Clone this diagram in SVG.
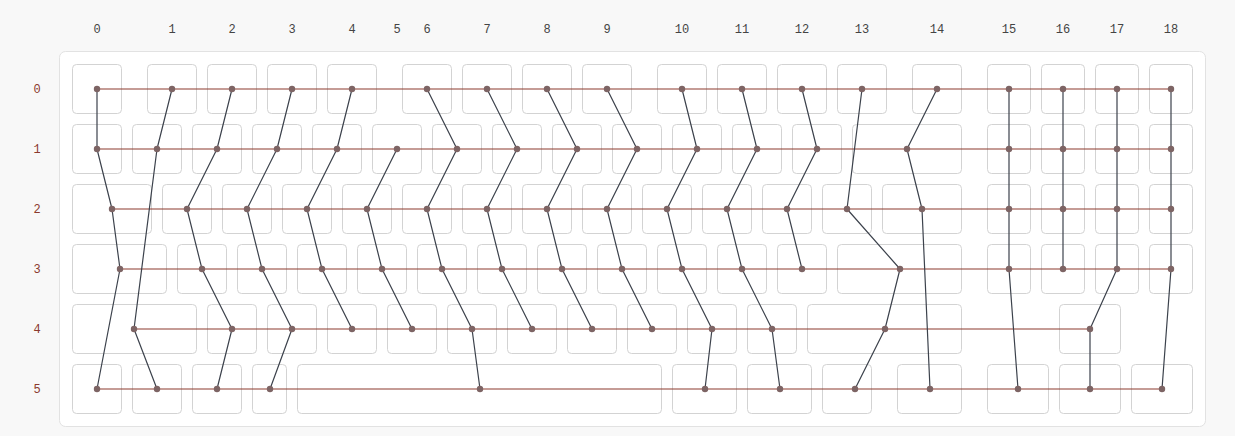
<svg xmlns="http://www.w3.org/2000/svg" width="1235" height="436" viewBox="0 0 1235 436">
<style>
.k{fill:#fff;stroke:#d3d3d3;stroke-width:1}
.row{stroke:#8b3a2e;stroke-width:1.2;fill:none}
.col{stroke:#3c424c;stroke-width:1.2;fill:none;stroke-linejoin:round}
.d{fill:#7d6464}
.cl{font-family:"Liberation Mono","DejaVu Sans Mono",monospace;font-size:12px;fill:#444;text-anchor:middle}
.rl{font-family:"Liberation Mono","DejaVu Sans Mono",monospace;font-size:12px;fill:#8b3a2e;text-anchor:middle}
</style>
<rect width="1235" height="436" fill="#f8f8f8"/>
<rect x="59.5" y="51.5" width="1146" height="375" rx="6" fill="#fff" stroke="#e2e2e2"/>
<g id="col-labels">
<text class="cl" x="97" y="33">0</text><text class="cl" x="172" y="33">1</text><text class="cl" x="232" y="33">2</text><text class="cl" x="292" y="33">3</text><text class="cl" x="352" y="33">4</text><text class="cl" x="397" y="33">5</text><text class="cl" x="427" y="33">6</text><text class="cl" x="487" y="33">7</text><text class="cl" x="547" y="33">8</text><text class="cl" x="607" y="33">9</text><text class="cl" x="682" y="33">10</text><text class="cl" x="742" y="33">11</text><text class="cl" x="802" y="33">12</text><text class="cl" x="862" y="33">13</text><text class="cl" x="937" y="33">14</text><text class="cl" x="1009" y="33">15</text><text class="cl" x="1063" y="33">16</text><text class="cl" x="1117" y="33">17</text><text class="cl" x="1171" y="33">18</text>
</g>
<g id="row-labels">
<text class="rl" x="37" y="93">0</text><text class="rl" x="37" y="153">1</text><text class="rl" x="37" y="213">2</text><text class="rl" x="37" y="273">3</text><text class="rl" x="37" y="333">4</text><text class="rl" x="37" y="393">5</text>
</g>
<g id="keys">
<g id="row0">
<rect class="k" x="72.5" y="64.5" width="49" height="49" rx="4"/>
<rect class="k" x="147.5" y="64.5" width="49" height="49" rx="4"/>
<rect class="k" x="207.5" y="64.5" width="49" height="49" rx="4"/>
<rect class="k" x="267.5" y="64.5" width="49" height="49" rx="4"/>
<rect class="k" x="327.5" y="64.5" width="49" height="49" rx="4"/>
<rect class="k" x="402.5" y="64.5" width="49" height="49" rx="4"/>
<rect class="k" x="462.5" y="64.5" width="49" height="49" rx="4"/>
<rect class="k" x="522.5" y="64.5" width="49" height="49" rx="4"/>
<rect class="k" x="582.5" y="64.5" width="49" height="49" rx="4"/>
<rect class="k" x="657.5" y="64.5" width="49" height="49" rx="4"/>
<rect class="k" x="717.5" y="64.5" width="49" height="49" rx="4"/>
<rect class="k" x="777.5" y="64.5" width="49" height="49" rx="4"/>
<rect class="k" x="837.5" y="64.5" width="49" height="49" rx="4"/>
<rect class="k" x="912.5" y="64.5" width="49" height="49" rx="4"/>
<rect class="k" x="987.5" y="64.5" width="43" height="49" rx="4"/>
<rect class="k" x="1041.5" y="64.5" width="43" height="49" rx="4"/>
<rect class="k" x="1095.5" y="64.5" width="43" height="49" rx="4"/>
<rect class="k" x="1149.5" y="64.5" width="43" height="49" rx="4"/>
</g>
<g id="row1">
<rect class="k" x="72.5" y="124.5" width="49" height="49" rx="4"/>
<rect class="k" x="132.5" y="124.5" width="49" height="49" rx="4"/>
<rect class="k" x="192.5" y="124.5" width="49" height="49" rx="4"/>
<rect class="k" x="252.5" y="124.5" width="49" height="49" rx="4"/>
<rect class="k" x="312.5" y="124.5" width="49" height="49" rx="4"/>
<rect class="k" x="372.5" y="124.5" width="49" height="49" rx="4"/>
<rect class="k" x="432.5" y="124.5" width="49" height="49" rx="4"/>
<rect class="k" x="492.5" y="124.5" width="49" height="49" rx="4"/>
<rect class="k" x="552.5" y="124.5" width="49" height="49" rx="4"/>
<rect class="k" x="612.5" y="124.5" width="49" height="49" rx="4"/>
<rect class="k" x="672.5" y="124.5" width="49" height="49" rx="4"/>
<rect class="k" x="732.5" y="124.5" width="49" height="49" rx="4"/>
<rect class="k" x="792.5" y="124.5" width="49" height="49" rx="4"/>
<rect class="k" x="852.5" y="124.5" width="109" height="49" rx="4"/>
<rect class="k" x="987.5" y="124.5" width="43" height="49" rx="4"/>
<rect class="k" x="1041.5" y="124.5" width="43" height="49" rx="4"/>
<rect class="k" x="1095.5" y="124.5" width="43" height="49" rx="4"/>
<rect class="k" x="1149.5" y="124.5" width="43" height="49" rx="4"/>
</g>
<g id="row2">
<rect class="k" x="72.5" y="184.5" width="79" height="49" rx="4"/>
<rect class="k" x="162.5" y="184.5" width="49" height="49" rx="4"/>
<rect class="k" x="222.5" y="184.5" width="49" height="49" rx="4"/>
<rect class="k" x="282.5" y="184.5" width="49" height="49" rx="4"/>
<rect class="k" x="342.5" y="184.5" width="49" height="49" rx="4"/>
<rect class="k" x="402.5" y="184.5" width="49" height="49" rx="4"/>
<rect class="k" x="462.5" y="184.5" width="49" height="49" rx="4"/>
<rect class="k" x="522.5" y="184.5" width="49" height="49" rx="4"/>
<rect class="k" x="582.5" y="184.5" width="49" height="49" rx="4"/>
<rect class="k" x="642.5" y="184.5" width="49" height="49" rx="4"/>
<rect class="k" x="702.5" y="184.5" width="49" height="49" rx="4"/>
<rect class="k" x="762.5" y="184.5" width="49" height="49" rx="4"/>
<rect class="k" x="822.5" y="184.5" width="49" height="49" rx="4"/>
<rect class="k" x="882.5" y="184.5" width="79" height="49" rx="4"/>
<rect class="k" x="987.5" y="184.5" width="43" height="49" rx="4"/>
<rect class="k" x="1041.5" y="184.5" width="43" height="49" rx="4"/>
<rect class="k" x="1095.5" y="184.5" width="43" height="49" rx="4"/>
<rect class="k" x="1149.5" y="184.5" width="43" height="49" rx="4"/>
</g>
<g id="row3">
<rect class="k" x="72.5" y="244.5" width="94" height="49" rx="4"/>
<rect class="k" x="177.5" y="244.5" width="49" height="49" rx="4"/>
<rect class="k" x="237.5" y="244.5" width="49" height="49" rx="4"/>
<rect class="k" x="297.5" y="244.5" width="49" height="49" rx="4"/>
<rect class="k" x="357.5" y="244.5" width="49" height="49" rx="4"/>
<rect class="k" x="417.5" y="244.5" width="49" height="49" rx="4"/>
<rect class="k" x="477.5" y="244.5" width="49" height="49" rx="4"/>
<rect class="k" x="537.5" y="244.5" width="49" height="49" rx="4"/>
<rect class="k" x="597.5" y="244.5" width="49" height="49" rx="4"/>
<rect class="k" x="657.5" y="244.5" width="49" height="49" rx="4"/>
<rect class="k" x="717.5" y="244.5" width="49" height="49" rx="4"/>
<rect class="k" x="777.5" y="244.5" width="49" height="49" rx="4"/>
<rect class="k" x="837.5" y="244.5" width="124" height="49" rx="4"/>
<rect class="k" x="987.5" y="244.5" width="43" height="49" rx="4"/>
<rect class="k" x="1041.5" y="244.5" width="43" height="49" rx="4"/>
<rect class="k" x="1095.5" y="244.5" width="43" height="49" rx="4"/>
<rect class="k" x="1149.5" y="244.5" width="43" height="49" rx="4"/>
</g>
<g id="row4">
<rect class="k" x="72.5" y="304.5" width="124" height="49" rx="4"/>
<rect class="k" x="207.5" y="304.5" width="49" height="49" rx="4"/>
<rect class="k" x="267.5" y="304.5" width="49" height="49" rx="4"/>
<rect class="k" x="327.5" y="304.5" width="49" height="49" rx="4"/>
<rect class="k" x="387.5" y="304.5" width="49" height="49" rx="4"/>
<rect class="k" x="447.5" y="304.5" width="49" height="49" rx="4"/>
<rect class="k" x="507.5" y="304.5" width="49" height="49" rx="4"/>
<rect class="k" x="567.5" y="304.5" width="49" height="49" rx="4"/>
<rect class="k" x="627.5" y="304.5" width="49" height="49" rx="4"/>
<rect class="k" x="687.5" y="304.5" width="49" height="49" rx="4"/>
<rect class="k" x="747.5" y="304.5" width="49" height="49" rx="4"/>
<rect class="k" x="807.5" y="304.5" width="154" height="49" rx="4"/>
<rect class="k" x="1059.5" y="304.5" width="61" height="49" rx="4"/>
</g>
<g id="row5">
<rect class="k" x="72.5" y="364.5" width="49" height="49" rx="4"/>
<rect class="k" x="132.5" y="364.5" width="49" height="49" rx="4"/>
<rect class="k" x="192.5" y="364.5" width="49" height="49" rx="4"/>
<rect class="k" x="252.5" y="364.5" width="34" height="49" rx="4"/>
<rect class="k" x="297.5" y="364.5" width="364" height="49" rx="4"/>
<rect class="k" x="672.5" y="364.5" width="64" height="49" rx="4"/>
<rect class="k" x="747.5" y="364.5" width="64" height="49" rx="4"/>
<rect class="k" x="822.5" y="364.5" width="49" height="49" rx="4"/>
<rect class="k" x="897.5" y="364.5" width="64" height="49" rx="4"/>
<rect class="k" x="987.5" y="364.5" width="61" height="49" rx="4"/>
<rect class="k" x="1059.5" y="364.5" width="61" height="49" rx="4"/>
<rect class="k" x="1131.5" y="364.5" width="61" height="49" rx="4"/>
</g>
</g>
<g id="connectors">
<g id="row-wires">
<line class="row" x1="97" y1="89" x2="1171" y2="89"/>
<line class="row" x1="97" y1="149" x2="1171" y2="149"/>
<line class="row" x1="112" y1="209" x2="1171" y2="209"/>
<line class="row" x1="120" y1="269" x2="1171" y2="269"/>
<line class="row" x1="134" y1="329" x2="1090" y2="329"/>
<line class="row" x1="97" y1="389" x2="1162" y2="389"/>
</g>
<g id="col-wires">
<polyline class="col" points="97,89 97,149 112,209 120,269 97,389"/>
<polyline class="col" points="172,89 157,149 134,329 157,389"/>
<polyline class="col" points="232,89 217,149 187,209 202,269 232,329 217,389"/>
<polyline class="col" points="292,89 277,149 247,209 262,269 292,329 270,389"/>
<polyline class="col" points="352,89 337,149 307,209 322,269 352,329"/>
<polyline class="col" points="397,149 367,209 382,269 412,329"/>
<polyline class="col" points="427,89 457,149 427,209 442,269 472,329 480,389"/>
<polyline class="col" points="487,89 517,149 487,209 502,269 532,329"/>
<polyline class="col" points="547,89 577,149 547,209 562,269 592,329"/>
<polyline class="col" points="607,89 637,149 607,209 622,269 652,329"/>
<polyline class="col" points="682,89 697,149 667,209 682,269 712,329 705,389"/>
<polyline class="col" points="742,89 757,149 727,209 742,269 772,329 780,389"/>
<polyline class="col" points="802,89 817,149 787,209 802,269"/>
<polyline class="col" points="862,89 847,209 900,269 885,329 855,389"/>
<polyline class="col" points="937,89 907,149 922,209 930,389"/>
<polyline class="col" points="1009,89 1009,269 1018,389"/>
<polyline class="col" points="1063,89 1063,269"/>
<polyline class="col" points="1117,89 1117,269 1090,329 1090,389"/>
<polyline class="col" points="1171,89 1171,269 1162,389"/>
</g>
</g>
<g id="dots">
<circle class="d" cx="97" cy="89" r="3.2"/><circle class="d" cx="172" cy="89" r="3.2"/><circle class="d" cx="232" cy="89" r="3.2"/><circle class="d" cx="292" cy="89" r="3.2"/><circle class="d" cx="352" cy="89" r="3.2"/><circle class="d" cx="427" cy="89" r="3.2"/><circle class="d" cx="487" cy="89" r="3.2"/><circle class="d" cx="547" cy="89" r="3.2"/><circle class="d" cx="607" cy="89" r="3.2"/><circle class="d" cx="682" cy="89" r="3.2"/><circle class="d" cx="742" cy="89" r="3.2"/><circle class="d" cx="802" cy="89" r="3.2"/><circle class="d" cx="862" cy="89" r="3.2"/><circle class="d" cx="937" cy="89" r="3.2"/><circle class="d" cx="1009" cy="89" r="3.2"/><circle class="d" cx="1063" cy="89" r="3.2"/><circle class="d" cx="1117" cy="89" r="3.2"/><circle class="d" cx="1171" cy="89" r="3.2"/>
<circle class="d" cx="97" cy="149" r="3.2"/><circle class="d" cx="157" cy="149" r="3.2"/><circle class="d" cx="217" cy="149" r="3.2"/><circle class="d" cx="277" cy="149" r="3.2"/><circle class="d" cx="337" cy="149" r="3.2"/><circle class="d" cx="397" cy="149" r="3.2"/><circle class="d" cx="457" cy="149" r="3.2"/><circle class="d" cx="517" cy="149" r="3.2"/><circle class="d" cx="577" cy="149" r="3.2"/><circle class="d" cx="637" cy="149" r="3.2"/><circle class="d" cx="697" cy="149" r="3.2"/><circle class="d" cx="757" cy="149" r="3.2"/><circle class="d" cx="817" cy="149" r="3.2"/><circle class="d" cx="907" cy="149" r="3.2"/><circle class="d" cx="1009" cy="149" r="3.2"/><circle class="d" cx="1063" cy="149" r="3.2"/><circle class="d" cx="1117" cy="149" r="3.2"/><circle class="d" cx="1171" cy="149" r="3.2"/>
<circle class="d" cx="112" cy="209" r="3.2"/><circle class="d" cx="187" cy="209" r="3.2"/><circle class="d" cx="247" cy="209" r="3.2"/><circle class="d" cx="307" cy="209" r="3.2"/><circle class="d" cx="367" cy="209" r="3.2"/><circle class="d" cx="427" cy="209" r="3.2"/><circle class="d" cx="487" cy="209" r="3.2"/><circle class="d" cx="547" cy="209" r="3.2"/><circle class="d" cx="607" cy="209" r="3.2"/><circle class="d" cx="667" cy="209" r="3.2"/><circle class="d" cx="727" cy="209" r="3.2"/><circle class="d" cx="787" cy="209" r="3.2"/><circle class="d" cx="847" cy="209" r="3.2"/><circle class="d" cx="922" cy="209" r="3.2"/><circle class="d" cx="1009" cy="209" r="3.2"/><circle class="d" cx="1063" cy="209" r="3.2"/><circle class="d" cx="1117" cy="209" r="3.2"/><circle class="d" cx="1171" cy="209" r="3.2"/>
<circle class="d" cx="120" cy="269" r="3.2"/><circle class="d" cx="202" cy="269" r="3.2"/><circle class="d" cx="262" cy="269" r="3.2"/><circle class="d" cx="322" cy="269" r="3.2"/><circle class="d" cx="382" cy="269" r="3.2"/><circle class="d" cx="442" cy="269" r="3.2"/><circle class="d" cx="502" cy="269" r="3.2"/><circle class="d" cx="562" cy="269" r="3.2"/><circle class="d" cx="622" cy="269" r="3.2"/><circle class="d" cx="682" cy="269" r="3.2"/><circle class="d" cx="742" cy="269" r="3.2"/><circle class="d" cx="802" cy="269" r="3.2"/><circle class="d" cx="900" cy="269" r="3.2"/><circle class="d" cx="1009" cy="269" r="3.2"/><circle class="d" cx="1063" cy="269" r="3.2"/><circle class="d" cx="1117" cy="269" r="3.2"/><circle class="d" cx="1171" cy="269" r="3.2"/>
<circle class="d" cx="134" cy="329" r="3.2"/><circle class="d" cx="232" cy="329" r="3.2"/><circle class="d" cx="292" cy="329" r="3.2"/><circle class="d" cx="352" cy="329" r="3.2"/><circle class="d" cx="412" cy="329" r="3.2"/><circle class="d" cx="472" cy="329" r="3.2"/><circle class="d" cx="532" cy="329" r="3.2"/><circle class="d" cx="592" cy="329" r="3.2"/><circle class="d" cx="652" cy="329" r="3.2"/><circle class="d" cx="712" cy="329" r="3.2"/><circle class="d" cx="772" cy="329" r="3.2"/><circle class="d" cx="885" cy="329" r="3.2"/><circle class="d" cx="1090" cy="329" r="3.2"/>
<circle class="d" cx="97" cy="389" r="3.2"/><circle class="d" cx="157" cy="389" r="3.2"/><circle class="d" cx="217" cy="389" r="3.2"/><circle class="d" cx="270" cy="389" r="3.2"/><circle class="d" cx="480" cy="389" r="3.2"/><circle class="d" cx="705" cy="389" r="3.2"/><circle class="d" cx="780" cy="389" r="3.2"/><circle class="d" cx="855" cy="389" r="3.2"/><circle class="d" cx="930" cy="389" r="3.2"/><circle class="d" cx="1018" cy="389" r="3.2"/><circle class="d" cx="1090" cy="389" r="3.2"/><circle class="d" cx="1162" cy="389" r="3.2"/>
</g>
</svg>
